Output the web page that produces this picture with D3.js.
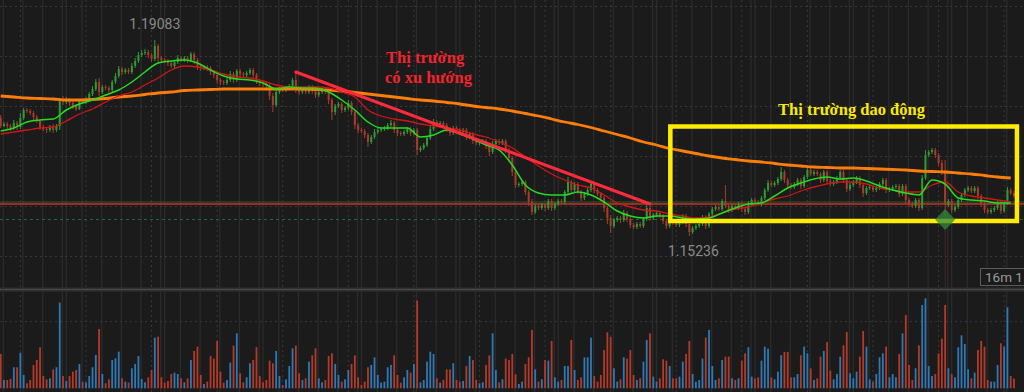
<!DOCTYPE html>
<html><head><meta charset="utf-8">
<script src="https://cdn.jsdelivr.net/npm/d3@7"></script>
<style>html,body{margin:0;padding:0;background:#1b1b1b;overflow:hidden}</style>
</head><body><svg id="c" width="1024" height="392"></svg>
<script>
// ---- candle data (EURUSD-like prices) ----
const opens=[
1.1764,1.1748,1.1752,1.1748,1.1744,1.1754,1.1746,1.1764,1.1780,1.1778,
1.1774,1.1766,1.1758,1.1746,1.1742,1.1740,1.1746,1.1740,1.1748,1.1800,
1.1796,1.1800,1.1794,1.1788,1.1782,1.1798,1.1796,1.1802,1.1812,1.1822,
1.1836,1.1816,1.1826,1.1824,1.1820,1.1836,1.1848,1.1862,1.1856,1.1860,
1.1856,1.1868,1.1878,1.1890,1.1894,1.1896,1.1890,1.1882,1.1908,1.1884,
1.1880,1.1878,1.1874,1.1868,1.1876,1.1884,1.1880,1.1884,1.1880,1.1892,
1.1880,1.1868,1.1864,1.1866,1.1864,1.1856,1.1850,1.1840,1.1836,1.1834,
1.1840,1.1852,1.1840,1.1858,1.1852,1.1850,1.1854,1.1860,1.1850,1.1838,
1.1834,1.1832,1.1828,1.1808,1.1790,1.1816,1.1822,1.1820,1.1824,1.1828,
1.1840,1.1820,1.1816,1.1820,1.1816,1.1826,1.1818,1.1810,1.1816,1.1820,
1.1816,1.1800,1.1776,1.1788,1.1792,1.1780,1.1784,1.1794,1.1776,1.1750,
1.1740,1.1738,1.1730,1.1716,1.1726,1.1736,1.1740,1.1742,1.1744,1.1750,
1.1754,1.1740,1.1734,1.1732,1.1736,1.1742,1.1734,1.1740,1.1700,1.1704,
1.1710,1.1724,1.1742,1.1756,1.1752,1.1754,1.1750,1.1742,1.1734,1.1744,
1.1740,1.1736,1.1740,1.1726,1.1732,1.1718,1.1714,1.1716,1.1718,1.1708,
1.1696,1.1712,1.1718,1.1714,1.1718,1.1700,1.1684,1.1656,1.1630,1.1632,
1.1636,1.1616,1.1596,1.1576,1.1588,1.1584,1.1590,1.1584,1.1598,1.1584,
1.1592,1.1598,1.1596,1.1616,1.1636,1.1620,1.1632,1.1616,1.1604,1.1612,
1.1620,1.1632,1.1620,1.1612,1.1604,1.1584,1.1564,1.1548,1.1560,1.1564,
1.1560,1.1574,1.1562,1.1550,1.1546,1.1552,1.1548,1.1562,1.1584,1.1564,
1.1570,1.1574,1.1568,1.1558,1.1548,1.1558,1.1554,1.1550,1.1556,1.1568,
1.1552,1.1536,1.1544,1.1548,1.1552,1.1566,1.1548,1.1572,1.1582,1.1586,
1.1582,1.1598,1.1588,1.1580,1.1588,1.1584,1.1592,1.1582,1.1576,1.1594,
1.1600,1.1596,1.1592,1.1604,1.1620,1.1634,1.1630,1.1634,1.1642,1.1656,
1.1640,1.1630,1.1626,1.1632,1.1640,1.1628,1.1646,1.1660,1.1652,1.1656,
1.1652,1.1640,1.1656,1.1638,1.1632,1.1636,1.1644,1.1656,1.1640,1.1622,
1.1630,1.1636,1.1644,1.1630,1.1614,1.1624,1.1626,1.1620,1.1624,1.1632,
1.1640,1.1620,1.1622,1.1626,1.1628,1.1612,1.1628,1.1600,1.1592,1.1588,
1.1600,1.1584,1.1644,1.1690,1.1696,1.1700,1.1690,1.1674,1.1656,1.1590,
1.1598,1.1580,1.1586,1.1600,1.1610,1.1620,1.1624,1.1618,1.1624,1.1608,
1.1592,1.1580,1.1576,1.1580,1.1584,1.1594,1.1578,1.1594,1.1620,1.1614];
const closes=[
1.1748,1.1752,1.1748,1.1744,1.1754,1.1746,1.1764,1.1780,1.1778,1.1774,
1.1766,1.1758,1.1746,1.1742,1.1740,1.1746,1.1740,1.1748,1.1800,1.1796,
1.1800,1.1794,1.1788,1.1782,1.1798,1.1796,1.1802,1.1812,1.1822,1.1836,
1.1816,1.1826,1.1824,1.1820,1.1836,1.1848,1.1862,1.1856,1.1860,1.1856,
1.1868,1.1878,1.1890,1.1894,1.1896,1.1890,1.1882,1.1908,1.1884,1.1880,
1.1878,1.1874,1.1868,1.1876,1.1884,1.1880,1.1884,1.1880,1.1892,1.1880,
1.1868,1.1864,1.1866,1.1864,1.1856,1.1850,1.1840,1.1836,1.1834,1.1840,
1.1852,1.1840,1.1858,1.1852,1.1850,1.1854,1.1860,1.1850,1.1838,1.1834,
1.1832,1.1828,1.1808,1.1790,1.1816,1.1822,1.1820,1.1824,1.1828,1.1840,
1.1820,1.1816,1.1820,1.1816,1.1826,1.1818,1.1810,1.1816,1.1820,1.1816,
1.1800,1.1776,1.1788,1.1792,1.1780,1.1784,1.1794,1.1776,1.1750,1.1740,
1.1738,1.1730,1.1716,1.1726,1.1736,1.1740,1.1742,1.1744,1.1750,1.1754,
1.1740,1.1734,1.1732,1.1736,1.1742,1.1734,1.1740,1.1700,1.1704,1.1710,
1.1724,1.1742,1.1756,1.1752,1.1754,1.1750,1.1742,1.1734,1.1744,1.1740,
1.1736,1.1740,1.1726,1.1732,1.1718,1.1714,1.1716,1.1718,1.1708,1.1696,
1.1712,1.1718,1.1714,1.1718,1.1700,1.1684,1.1656,1.1630,1.1632,1.1636,
1.1616,1.1596,1.1576,1.1588,1.1584,1.1590,1.1584,1.1598,1.1584,1.1592,
1.1598,1.1596,1.1616,1.1636,1.1620,1.1632,1.1616,1.1604,1.1612,1.1620,
1.1632,1.1620,1.1612,1.1604,1.1584,1.1564,1.1548,1.1560,1.1564,1.1560,
1.1574,1.1562,1.1550,1.1546,1.1552,1.1548,1.1562,1.1584,1.1564,1.1570,
1.1574,1.1568,1.1558,1.1548,1.1558,1.1554,1.1550,1.1556,1.1568,1.1552,
1.1536,1.1544,1.1548,1.1552,1.1566,1.1548,1.1572,1.1582,1.1586,1.1582,
1.1598,1.1588,1.1580,1.1588,1.1584,1.1592,1.1582,1.1576,1.1594,1.1600,
1.1596,1.1592,1.1604,1.1620,1.1634,1.1630,1.1634,1.1642,1.1656,1.1640,
1.1630,1.1626,1.1632,1.1640,1.1628,1.1646,1.1660,1.1652,1.1656,1.1652,
1.1640,1.1656,1.1638,1.1632,1.1636,1.1644,1.1656,1.1640,1.1622,1.1630,
1.1636,1.1644,1.1630,1.1614,1.1624,1.1626,1.1620,1.1624,1.1632,1.1640,
1.1620,1.1622,1.1626,1.1628,1.1612,1.1628,1.1600,1.1592,1.1588,1.1600,
1.1584,1.1644,1.1690,1.1696,1.1700,1.1690,1.1674,1.1656,1.1590,1.1598,
1.1580,1.1586,1.1600,1.1610,1.1620,1.1624,1.1618,1.1624,1.1608,1.1592,
1.1580,1.1576,1.1580,1.1584,1.1594,1.1578,1.1594,1.1620,1.1614,1.1608];
const highs=[
1.1770,1.1756,1.1756,1.1752,1.1760,1.1758,1.1774,1.1784,1.1784,1.1782,
1.1778,1.1770,1.1762,1.1750,1.1746,1.1750,1.1752,1.1752,1.1804,1.1808,
1.1806,1.1804,1.1798,1.1792,1.1802,1.1802,1.1806,1.1816,1.1828,1.1842,
1.1844,1.1830,1.1830,1.1828,1.1840,1.1854,1.1868,1.1866,1.1864,1.1864,
1.1874,1.1884,1.1896,1.1900,1.1902,1.1900,1.1894,1.1920,1.1912,1.1888,
1.1884,1.1882,1.1878,1.1880,1.1890,1.1888,1.1888,1.1888,1.1896,1.1896,
1.1884,1.1872,1.1870,1.1870,1.1868,1.1860,1.1856,1.1844,1.1840,1.1844,
1.1858,1.1856,1.1862,1.1862,1.1856,1.1858,1.1864,1.1864,1.1854,1.1842,
1.1838,1.1836,1.1832,1.1814,1.1820,1.1826,1.1826,1.1828,1.1832,1.1844,
1.1856,1.1824,1.1824,1.1824,1.1830,1.1830,1.1822,1.1820,1.1824,1.1824,
1.1820,1.1804,1.1792,1.1796,1.1796,1.1788,1.1800,1.1798,1.1780,1.1754,
1.1744,1.1742,1.1734,1.1730,1.1742,1.1744,1.1746,1.1748,1.1754,1.1760,
1.1758,1.1744,1.1738,1.1740,1.1746,1.1746,1.1744,1.1744,1.1708,1.1714,
1.1728,1.1748,1.1762,1.1760,1.1758,1.1758,1.1754,1.1746,1.1748,1.1748,
1.1744,1.1744,1.1744,1.1736,1.1736,1.1722,1.1720,1.1722,1.1722,1.1712,
1.1718,1.1722,1.1722,1.1722,1.1722,1.1704,1.1688,1.1660,1.1636,1.1640,
1.1640,1.1620,1.1602,1.1592,1.1592,1.1594,1.1594,1.1602,1.1602,1.1596,
1.1602,1.1602,1.1620,1.1646,1.1640,1.1636,1.1636,1.1620,1.1616,1.1624,
1.1638,1.1636,1.1624,1.1616,1.1608,1.1588,1.1570,1.1564,1.1568,1.1568,
1.1580,1.1578,1.1566,1.1554,1.1556,1.1556,1.1566,1.1590,1.1588,1.1574,
1.1578,1.1578,1.1572,1.1562,1.1562,1.1562,1.1558,1.1560,1.1572,1.1572,
1.1556,1.1548,1.1552,1.1556,1.1570,1.1570,1.1576,1.1586,1.1590,1.1590,
1.1602,1.1630,1.1592,1.1592,1.1592,1.1596,1.1596,1.1586,1.1598,1.1604,
1.1604,1.1600,1.1608,1.1624,1.1640,1.1638,1.1638,1.1646,1.1666,1.1660,
1.1644,1.1634,1.1636,1.1644,1.1644,1.1650,1.1666,1.1664,1.1660,1.1660,
1.1656,1.1660,1.1660,1.1642,1.1640,1.1648,1.1660,1.1660,1.1644,1.1634,
1.1640,1.1648,1.1648,1.1634,1.1628,1.1630,1.1630,1.1628,1.1636,1.1644,
1.1644,1.1626,1.1630,1.1632,1.1632,1.1632,1.1632,1.1604,1.1596,1.1604,
1.1604,1.1650,1.1700,1.1700,1.1704,1.1704,1.1694,1.1680,1.1680,1.1602,
1.1602,1.1590,1.1604,1.1614,1.1624,1.1628,1.1628,1.1628,1.1628,1.1612,
1.1596,1.1584,1.1584,1.1588,1.1598,1.1598,1.1598,1.1626,1.1624,1.1618];
const lows=[
1.1744,1.1746,1.1742,1.1738,1.1740,1.1740,1.1742,1.1760,1.1774,1.1770,
1.1760,1.1754,1.1740,1.1738,1.1734,1.1736,1.1734,1.1736,1.1740,1.1790,
1.1792,1.1788,1.1782,1.1778,1.1780,1.1792,1.1792,1.1800,1.1808,1.1818,
1.1808,1.1812,1.1820,1.1814,1.1816,1.1832,1.1844,1.1850,1.1852,1.1852,
1.1852,1.1864,1.1874,1.1886,1.1890,1.1884,1.1876,1.1878,1.1876,1.1874,
1.1874,1.1868,1.1864,1.1864,1.1872,1.1876,1.1876,1.1874,1.1876,1.1872,
1.1860,1.1858,1.1860,1.1858,1.1850,1.1844,1.1832,1.1830,1.1830,1.1830,
1.1836,1.1834,1.1836,1.1846,1.1846,1.1846,1.1850,1.1844,1.1832,1.1828,
1.1826,1.1822,1.1800,1.1776,1.1786,1.1812,1.1816,1.1816,1.1820,1.1824,
1.1814,1.1810,1.1812,1.1812,1.1812,1.1812,1.1804,1.1806,1.1812,1.1812,
1.1792,1.1760,1.1770,1.1784,1.1774,1.1776,1.1780,1.1770,1.1742,1.1734,
1.1734,1.1724,1.1706,1.1712,1.1722,1.1732,1.1736,1.1738,1.1740,1.1746,
1.1734,1.1728,1.1728,1.1728,1.1732,1.1728,1.1730,1.1690,1.1696,1.1700,
1.1706,1.1720,1.1738,1.1746,1.1748,1.1746,1.1736,1.1728,1.1730,1.1736,
1.1732,1.1732,1.1720,1.1722,1.1712,1.1710,1.1710,1.1712,1.1702,1.1688,
1.1692,1.1708,1.1710,1.1710,1.1694,1.1676,1.1648,1.1624,1.1626,1.1628,
1.1610,1.1588,1.1570,1.1572,1.1580,1.1580,1.1578,1.1580,1.1578,1.1580,
1.1588,1.1592,1.1592,1.1612,1.1614,1.1616,1.1612,1.1598,1.1600,1.1608,
1.1616,1.1614,1.1608,1.1598,1.1576,1.1552,1.1534,1.1544,1.1556,1.1554,
1.1556,1.1556,1.1544,1.1542,1.1542,1.1544,1.1544,1.1558,1.1558,1.1560,
1.1566,1.1564,1.1552,1.1542,1.1544,1.1550,1.1546,1.1546,1.1552,1.1546,
1.1528,1.1532,1.1540,1.1544,1.1548,1.1542,1.1544,1.1568,1.1578,1.1578,
1.1578,1.1584,1.1574,1.1576,1.1580,1.1580,1.1576,1.1570,1.1572,1.1590,
1.1592,1.1588,1.1588,1.1600,1.1616,1.1626,1.1626,1.1630,1.1638,1.1634,
1.1624,1.1622,1.1622,1.1628,1.1622,1.1624,1.1642,1.1648,1.1648,1.1648,
1.1634,1.1636,1.1632,1.1628,1.1628,1.1632,1.1640,1.1634,1.1616,1.1618,
1.1626,1.1632,1.1624,1.1606,1.1610,1.1620,1.1616,1.1616,1.1620,1.1628,
1.1614,1.1616,1.1618,1.1622,1.1606,1.1608,1.1592,1.1586,1.1584,1.1584,
1.1578,1.1580,1.1640,1.1686,1.1692,1.1684,1.1668,1.1650,1.1570,1.1586,
1.1574,1.1576,1.1582,1.1596,1.1606,1.1616,1.1614,1.1614,1.1602,1.1586,
1.1574,1.1572,1.1572,1.1576,1.1580,1.1572,1.1574,1.1590,1.1610,1.1604];
const volumes=[
103,25,25,28,63,63,107,40,15,25,
70,85,123,37,27,30,57,63,257,37,
22,37,50,55,73,20,18,37,63,100,
178,43,15,27,85,90,110,30,20,17,
60,73,97,28,18,33,55,152,155,33,
17,22,43,47,43,30,18,30,85,112,
125,40,13,20,97,89,142,50,17,25,
77,128,165,45,18,33,75,85,123,37,
18,25,83,75,112,37,10,27,67,120,
128,45,25,30,80,99,120,30,18,25,
97,105,73,40,20,27,55,73,99,33,
10,20,63,70,93,40,17,20,63,70,
99,40,17,33,55,47,73,263,18,25,
80,110,103,30,17,25,57,57,75,25,
20,22,67,97,85,25,15,18,70,99,
165,55,18,27,89,85,103,42,13,20,
73,93,175,57,20,27,85,83,142,33,
20,25,67,67,145,55,25,33,93,93,
152,37,20,40,115,168,154,60,20,27,
93,89,115,40,25,30,80,145,165,35,
20,30,87,83,67,30,30,35,80,103,
142,43,20,25,89,152,175,67,25,30,
85,95,95,30,25,30,83,105,123,35,
30,33,83,125,119,33,27,50,99,109,
109,33,33,43,99,125,105,60,25,30,
95,112,139,53,27,43,95,129,169,45,
30,50,95,172,125,27,20,43,93,105,
125,33,43,33,103,165,220,70,25,60,
129,250,270,67,37,43,105,149,250,60,
43,33,123,159,133,57,30,47,115,142,
125,25,20,20,70,135,125,243,37,29];

// ---- moving averages, read every 4th candle ----
const maStep=4;
const maFast=[
1.1738,1.1744,1.1756,1.1760,1.1762,1.1780,1.1792,1.1800,1.1810,1.1820,
1.1836,1.1856,1.1874,1.1878,1.1880,1.1874,1.1860,1.1848,1.1842,1.1840,
1.1834,1.1822,1.1826,1.1824,1.1824,1.1816,1.1800,1.1780,1.1756,1.1744,
1.1744,1.1744,1.1726,1.1730,1.1740,1.1732,1.1722,1.1710,1.1700,1.1670,
1.1630,1.1614,1.1610,1.1610,1.1616,1.1610,1.1596,1.1578,1.1568,1.1564,
1.1568,1.1568,1.1564,1.1562,1.1564,1.1574,1.1584,1.1592,1.1594,1.1608,
1.1624,1.1634,1.1642,1.1646,1.1642,1.1644,1.1638,1.1628,1.1620,1.1614,
1.1610,1.1640,1.1632,1.1604,1.1600,1.1598,1.1594,1.1594];
const maSlow=[
1.1732,1.1736,1.1740,1.1744,1.1746,1.1758,1.1772,1.1782,1.1796,1.1808,
1.1816,1.1830,1.1844,1.1860,1.1868,1.1866,1.1860,1.1852,1.1846,1.1844,
1.1838,1.1830,1.1826,1.1826,1.1826,1.1824,1.1816,1.1806,1.1780,1.1768,
1.1762,1.1758,1.1752,1.1748,1.1744,1.1740,1.1732,1.1726,1.1716,1.1704,
1.1686,1.1668,1.1652,1.1640,1.1630,1.1624,1.1610,1.1594,1.1586,1.1580,
1.1578,1.1572,1.1568,1.1564,1.1566,1.1574,1.1582,1.1586,1.1594,1.1602,
1.1608,1.1618,1.1626,1.1632,1.1636,1.1636,1.1632,1.1624,1.1620,1.1616,
1.1616,1.1630,1.1636,1.1616,1.1608,1.1604,1.1600,1.1596];
const ma200=[
1.1808,1.1806,1.1804,1.1803,1.1802,1.1800,1.1800,1.1801,1.1803,1.1806,
1.1808,1.1811,1.1814,1.1816,1.1819,1.1820,1.1821,1.1822,1.1822,1.1822,
1.1822,1.1822,1.1822,1.1822,1.1821,1.1820,1.1818,1.1815,1.1812,1.1809,
1.1806,1.1803,1.1800,1.1798,1.1795,1.1792,1.1788,1.1785,1.1782,1.1778,
1.1773,1.1768,1.1762,1.1756,1.1751,1.1745,1.1738,1.1731,1.1724,1.1716,
1.1710,1.1703,1.1698,1.1693,1.1688,1.1684,1.1681,1.1678,1.1676,1.1673,
1.1670,1.1668,1.1666,1.1665,1.1664,1.1664,1.1663,1.1662,1.1661,1.1660,
1.1658,1.1657,1.1656,1.1654,1.1652,1.1649,1.1646,1.1644];

// ---- levels, annotations ----
const priceGrid=[1.1988,1.1888,1.1788,1.1688,1.1588,1.1488];
const volGrid=[200];
const levelRed=1.1592, levelGreen=1.1596, levelDotted=1.1561;
const trendIdx=[90,198], trendPrice=[1.1856,1.1592];
const boxIdx=[204.2,309.9], boxPrice=[1.1747,1.1558];
const signalIdx=288, signalPrice=1.1561;
const highLabel="1.19083", lowLabel="1.15236";
const noteTrend=["Thị trường","có xu hướng"];
const noteRange="Thị trường dao động";
const timerLabel="16m 1";

const W=1024,H=392;
const svg=d3.select('#c');
svg.append('rect').attr('width',W).attr('height',H).attr('fill','#1b1b1b');
const N=closes.length;
const x=d3.scaleLinear().domain([0,N-1]).range([0.7,1014]);
const y=d3.scaleLinear().domain([1.1424,1.2]).range([288,0]);
const yv=d3.scaleLinear().domain([0,300]).range([388.3,288.3]);

// grid
const g=svg.append('g');
g.selectAll('.vs').data(d3.range(0.8,N+4,6)).join('line')
 .attr('x1',d=>x(d)).attr('x2',d=>x(d)).attr('y1',0).attr('y2',H)
 .attr('stroke','#2b2b2b').attr('stroke-width',1.3);
g.selectAll('.vx').data(d3.range(20,N,30)).join('line')
 .attr('x1',d=>x(d)).attr('x2',d=>x(d)).attr('y1',0).attr('y2',H)
 .attr('stroke','#2b2b2b').attr('stroke-width',1.3);
g.selectAll('.vd').data(d3.range(6,N,20)).join('line')
 .attr('x1',d=>x(d)).attr('x2',d=>x(d)).attr('y1',0).attr('y2',H)
 .attr('stroke','#383838').attr('stroke-width',1).attr('stroke-dasharray','2,3');
g.selectAll('.hd').data(priceGrid).join('line')
 .attr('x1',0).attr('x2',W).attr('y1',d=>y(d)+0.5).attr('y2',d=>y(d)+0.5)
 .attr('stroke','#383838').attr('stroke-width',1).attr('stroke-dasharray','2,3');
g.selectAll('.hv').data(volGrid).join('line')
 .attr('x1',0).attr('x2',W).attr('y1',d=>yv(d)).attr('y2',d=>yv(d))
 .attr('stroke','#383838').attr('stroke-width',1).attr('stroke-dasharray','2,3');
// pane separator
svg.append('rect').attr('x',0).attr('y',287.5).attr('width',W).attr('height',4).attr('fill','#303030');
svg.append('line').attr('x1',0).attr('x2',W).attr('y1',289.5).attr('y2',289.5).attr('stroke','#474747').attr('stroke-width',1);

// levels
svg.append('line').attr('x1',0).attr('x2',W).attr('y1',y(levelDotted)).attr('y2',y(levelDotted))
 .attr('stroke','#1f6a2c').attr('stroke-width',1.2).attr('stroke-dasharray','3,3');
svg.append('line').attr('x1',0).attr('x2',W).attr('y1',y(levelGreen)).attr('y2',y(levelGreen))
 .attr('stroke','#2a6a33').attr('stroke-width',1).attr('opacity',0.8);
svg.append('line').attr('x1',0).attr('x2',W).attr('y1',y(levelRed)).attr('y2',y(levelRed))
 .attr('stroke','#c8322a').attr('stroke-width',1.4);

// volume bars
const up=i=>closes[i]>=opens[i];
svg.append('g').selectAll('rect').data(volumes).join('rect')
 .attr('x',(d,i)=>x(i)-0.9).attr('width',1.8)
 .attr('y',d=>yv(d)).attr('height',d=>yv(0)-yv(d))
 .attr('fill',(d,i)=>up(i)?'#2f78b4':'#b33a28');

// signal vertical
svg.append('line').attr('x1',x(signalIdx)).attr('x2',x(signalIdx))
 .attr('y1',y(lows[signalIdx])).attr('y2',287).attr('stroke','#4a2424').attr('stroke-width',1);

// candles
const cg=svg.append('g');
const idx=d3.range(N);
cg.selectAll('.w').data(idx).join('line')
 .attr('x1',i=>x(i)).attr('x2',i=>x(i)).attr('y1',i=>y(highs[i])).attr('y2',i=>y(lows[i]))
 .attr('stroke',i=>up(i)?'#2f9a34':'#a63c2c').attr('stroke-width',1);
cg.selectAll('.b').data(idx).join('rect')
 .attr('x',i=>x(i)-1).attr('width',2)
 .attr('y',i=>y(Math.max(opens[i],closes[i])))
 .attr('height',i=>Math.max(1,Math.abs(y(opens[i])-y(closes[i]))))
 .attr('fill',i=>up(i)?'#2f9a34':'#a63c2c');

// moving averages
const maLine=d3.line().x((d,k)=>x(k*maStep)).y(d=>y(d)).curve(d3.curveMonotoneX);
svg.append('path').attr('d',maLine(ma200)).attr('fill','none').attr('stroke','#ff7d0a').attr('stroke-width',2.8);
svg.append('path').attr('d',maLine(maSlow)).attr('fill','none').attr('stroke','#cf1616').attr('stroke-width',1.3);
svg.append('path').attr('d',maLine(maFast)).attr('fill','none').attr('stroke','#22dd22').attr('stroke-width',1.5);

// trend line
svg.append('line').attr('x1',x(trendIdx[0])).attr('y1',y(trendPrice[0]))
 .attr('x2',x(trendIdx[1])).attr('y2',y(trendPrice[1]))
 .attr('stroke','#ff2a3c').attr('stroke-width',3).attr('stroke-linecap','round');

// range box
svg.append('rect').attr('x',x(boxIdx[0])).attr('y',y(boxPrice[0]))
 .attr('width',x(boxIdx[1])-x(boxIdx[0])).attr('height',y(boxPrice[1])-y(boxPrice[0]))
 .attr('fill','none').attr('stroke','#ffec00').attr('stroke-width',4.5);

// signal diamond
const sx=x(signalIdx), sy=y(signalPrice);
svg.append('path').attr('d',`M${sx},${sy-10.5}L${sx+10},${sy}L${sx},${sy+10.5}L${sx-10},${sy}Z`)
 .attr('fill','#2f8a3c').attr('opacity',0.75);

// labels
const hi=d3.maxIndex(highs), lo=d3.minIndex(lows);
svg.append('text').attr('x',x(hi)).attr('y',y(highs[hi])-10.7).attr('text-anchor','middle')
 .attr('font-family','Roboto, sans-serif').attr('font-size',14).attr('fill','#8a8a8a').text(highLabel);
svg.append('text').attr('x',x(lo)+4).attr('y',y(lows[lo])+19.7).attr('text-anchor','middle')
 .attr('font-family','Roboto, sans-serif').attr('font-size',14).attr('fill','#8a8a8a').text(lowLabel);

const serif="'Liberation Serif','Times New Roman',serif";
svg.append('text').attr('x',386).attr('y',63).attr('font-family',serif).attr('font-weight','bold')
 .attr('font-size',16.5).attr('fill','#f2232d').text(noteTrend[0]);
svg.append('text').attr('x',385).attr('y',83).attr('font-family',serif).attr('font-weight','bold')
 .attr('font-size',16.5).attr('fill','#f2232d').text(noteTrend[1]);
svg.append('text').attr('x',778).attr('y',115).attr('font-family',serif).attr('font-weight','bold')
 .attr('font-size',16.5).attr('fill','#f8ea00').text(noteRange);

// timer box
svg.append('rect').attr('x',980.5).attr('y',268.5).attr('width',60).attr('height',17)
 .attr('fill','#1b1b1b').attr('stroke','#5c5c5c').attr('stroke-width',1);
svg.append('text').attr('x',985).attr('y',282).attr('font-family','Roboto, sans-serif')
 .attr('font-size',13.5).attr('fill','#9a9a9a').text(timerLabel);
</script></body></html>
